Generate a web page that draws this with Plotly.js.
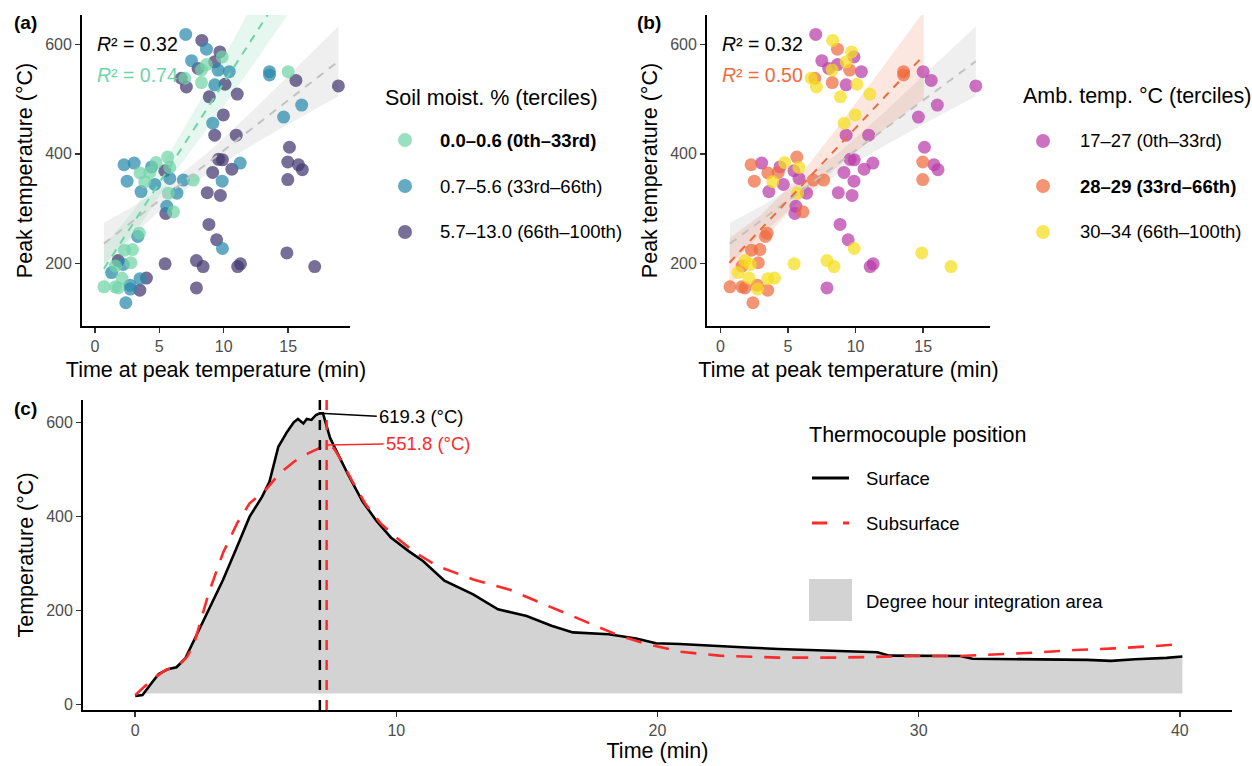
<!DOCTYPE html>
<html><head><meta charset="utf-8">
<script src="https://cdn.plot.ly/plotly-3.0.1.min.js"></script>
<style>html,body{margin:0;padding:0;background:#fff}#chart{width:1252px;height:766px}</style>
</head><body><div id="chart"></div>
<script>
// ================= DATA =================
// Panels (a) and (b): same burns, coloured by soil moisture (a) or ambient temperature (b)
const peakTime = [7.05,8.3,8.66,9.7,9.88,7.5,8.66,9.3,8.27,9.56,10.43,6.98,6.71,7.1,8.27,9.3,10.1,8.88,11.05,8.01,
  13.55,13.55,15.0,15.6,18.9,16.05,14.65,9.97,9.15,9.3,10.97,15.1,14.97,15.8,16.1,14.97,14.9,17.06,9.6,9.9,
  10.63,11.28,9.14,9.88,8.72,9.74,8.85,9.45,9.9,7.88,8.4,5.45,11.08,11.3,7.88,2.26,3.05,2.5,3.5,4.27,
  4.4,4.65,4.75,5.65,5.43,5.81,5.81,3.58,6.37,5.7,6.87,7.64,5.58,6.1,5.5,3.33,3.45,2.3,2.92,1.81,
  1.6,2.2,2.8,1.3,0.7,1.58,2.1,2.72,2.75,3.5,4.0,3.49,2.4,1.81,3.87];
const peakTemp = [618,607,591,586,577,570,563,568,553,553,550,538,538,522,530,526,527,504,509,556,
  550,544,550,534,524,489,467,471,456,434,434,412,385,380,371,353,219,194,390,389,
  372,383,366,350,329,324,271,243,227,205,194,199,194,199,155,380,383,350,365,366,
  376,344,384,394,369,375,355,331,328,328,352,352,304,294,291,249,255,224,225,205,
  195,198,201,183,157,157,173,160,153,172,173,151,128,155,349];
// 0 = 0.0–0.6, 1 = 0.7–5.6, 2 = 5.7–13.0
const soilGroup = [1,2,1,2,0,1,0,2,0,1,1,0,2,2,0,1,2,2,2,2,
  1,1,0,2,2,1,1,2,1,2,2,2,2,2,2,2,2,2,2,2,
  2,1,2,1,2,2,2,2,1,2,2,2,2,2,2,1,1,1,0,0,
  1,1,0,0,2,0,1,1,1,0,1,0,1,0,2,1,0,0,0,2,
  0,1,0,1,0,0,0,1,1,1,2,2,1,0,0];
// 0 = 17–27, 1 = 28–29, 2 = 30–34
const ambGroup = [0,2,1,2,0,0,0,2,2,1,0,1,2,2,1,0,2,2,2,0,
  1,1,0,0,0,0,0,2,2,0,0,0,1,0,0,1,2,2,0,0,
  0,0,0,0,0,0,0,0,2,2,2,2,0,0,0,1,0,1,1,1,
  0,0,2,1,0,2,0,0,0,2,1,1,0,1,0,1,1,1,1,2,
  1,2,1,2,1,1,2,1,2,2,2,1,1,1,2];
const soilLabels = ['<b>0.0–0.6 (0th–33rd)</b>','0.7–5.6 (33rd–66th)','5.7–13.0 (66th–100th)'];
const ambLabels = ['17–27 (0th–33rd)','<b>28–29 (33rd–66th)</b>','30–34 (66th–100th)'];
const soilTitle = 'Soil moist. % (terciles)';
const ambTitle = 'Amb. temp. °C (terciles)';

// Fitted lines and confidence ribbons
const fitAllX  = [0.7, 3, 6, 9, 12, 15, 18.9];
const fitAllY  = [236, 278, 333, 388, 443, 498, 569];
const fitAllLo = [198, 252, 316, 369, 413, 454, 505];
const fitAllHi = [274, 304, 350, 407, 473, 542, 633];
const fitDryX  = [0.7, 3, 6, 9, 12, 15];
const fitDryY  = [190, 274, 384, 493, 603, 712];
const fitDryLo = [148, 252, 359, 455, 553, 655];
const fitDryHi = [232, 296, 409, 531, 663, 790];
const fitMidX  = [0.66, 3, 6, 9, 12, 15.05];
const fitMidY  = [201, 263, 342, 421, 500, 580];
const fitMidLo = [156, 238, 320, 383, 442, 500];
const fitMidHi = [246, 288, 364, 459, 558, 660];
const r2All = '0.32', r2Dry = '0.74', r2Mid = '0.50';

// Panel (c): example burn time series
const surfTime = [0,0.28,0.62,0.9,1.24,1.58,1.92,2.26,2.81,3.36,3.9,4.38,4.86,5.14,5.48,5.82,6.07,6.23,6.44,6.57,
  6.75,6.92,7.07,7.19,7.33,7.46,7.74,8.15,8.7,9.24,9.79,10.47,11.02,11.84,12.94,13.89,14.99,15.94,16.76,18.13,
  19.18,19.94,20.85,21.9,22.5,23.42,24.63,26.14,27.66,28.42,28.88,29.94,31.6,32.06,33.73,35.25,36.46,37.37,38.28,39.49,40.1];
const surfTemp = [17.7,19.6,44.7,64.6,74.5,78.8,97.9,136.9,200.7,264.5,335.4,399.2,441.7,473.6,548,580,600,607,597.5,607,
  605,615.6,619.3,619,592,567,535,489,432,390,355,326,305,263,234,202,188,167,153,149,
  140,130,128.4,126,124,121,117.6,115.4,113,110.6,103.5,102.8,102.8,97,96.6,95.9,94.5,92.4,96,98.8,101.6];
const subTime = [0,0.62,1.17,1.65,1.99,2.26,2.81,3.36,3.9,4.38,4.99,5.54,6.09,6.64,7.05,7.33,7.6,7.88,8.28,8.83,
  9.38,9.93,10.75,11.57,12.94,14.31,15.67,17.04,18.41,19.48,20.85,22.36,24.63,26.9,28.42,29.94,31.6,32.97,34.49,36.0,
  37.52,39.04,39.94];
const subTemp = [19.6,51.7,73,81.6,101.5,130,236,322,385,427.5,456,492,516.6,534.3,545,551.8,545,520,478,425,
  386,357.7,322,294,265.7,244.5,212.6,180.7,148.8,130,112,103.5,99.3,99.3,101.4,102.8,102.8,106.4,110,115.6,
  119,124,127.7];
const areaBase = 23;
const seriesLabels = ['Surface','Subsurface','Degree hour integration area'];
const seriesTitle = 'Thermocouple position';

const xTicksAB = [0,5,10,15], yTicksAB = [200,400,600];
const xTicksC = [0,10,20,30,40], yTicksC = [0,200,400,600];

// ================= STYLE =================
const FONT = 'Liberation Sans, Arial, sans-serif';
const soilColors = ['#70D4A8','#2889AB','#43386F'];
const ambColors = ['#B93BA8','#EE6B3E','#F5DE1A'];
const W = 1252, H = 766;
const PX = v => v / W, PY = v => 1 - v / H;

const traces = [];
function ribbon(x, lo, hi, color, xa, ya) {
  traces.push({x: x.concat(x.slice().reverse()), y: hi.concat(lo.slice().reverse()), xaxis: xa, yaxis: ya,
    type:'scatter', mode:'lines', fill:'toself', fillcolor: color, line:{width:0}, hoverinfo:'skip', showlegend:false});
}
function fitLine(x, y, color, xa, ya) {
  traces.push({x, y, xaxis: xa, yaxis: ya, type:'scatter', mode:'lines',
    line:{color, width:2, dash:'8px,7px'}, hoverinfo:'skip', showlegend:false});
}
function points(groupArr, colors, xa, ya, order) {
  order.forEach(g => {
    const xs = [], ys = [];
    peakTime.forEach((t, i) => { if (groupArr[i] === g) { xs.push(t); ys.push(peakTemp[i]); } });
    traces.push({x: xs, y: ys, xaxis: xa, yaxis: ya, type:'scatter', mode:'markers',
      marker:{size:13, color: colors[g], opacity:0.72, line:{width:0}}, showlegend:false});
  });
}
// Panel a
ribbon(fitAllX, fitAllLo, fitAllHi, 'rgba(190,190,190,0.25)', 'x', 'y');
ribbon(fitDryX, fitDryLo, fitDryHi, 'rgba(112,212,168,0.18)', 'x', 'y');
points(soilGroup, soilColors, 'x', 'y', [2,1,0]);
fitLine(fitAllX, fitAllY, '#C2C2C2', 'x', 'y');
fitLine(fitDryX, fitDryY, soilColors[0], 'x', 'y');
// Panel b
ribbon(fitAllX, fitAllLo, fitAllHi, 'rgba(190,190,190,0.25)', 'x2', 'y2');
ribbon(fitMidX, fitMidLo, fitMidHi, 'rgba(238,107,62,0.16)', 'x2', 'y2');
points(ambGroup, ambColors, 'x2', 'y2', [0,1,2]);
fitLine(fitAllX, fitAllY, '#C2C2C2', 'x2', 'y2');
fitLine(fitMidX, fitMidY, ambColors[1], 'x2', 'y2');

// Panel c: integration area from the surface series
const areaX = [], areaY = [];
for (let i = 0; i < surfTime.length; i++) {
  if (surfTemp[i] >= areaBase) {
    if (!areaX.length && i > 0) {
      const f = (areaBase - surfTemp[i-1]) / (surfTemp[i] - surfTemp[i-1]);
      areaX.push(surfTime[i-1] + f * (surfTime[i] - surfTime[i-1])); areaY.push(areaBase);
    }
    areaX.push(surfTime[i]); areaY.push(surfTemp[i]);
  }
}
traces.push({x: areaX.concat([areaX[areaX.length-1], areaX[0]]), y: areaY.concat([areaBase, areaBase]),
  xaxis:'x3', yaxis:'y3', type:'scatter', mode:'lines', fill:'toself', fillcolor:'#D3D3D3', line:{width:0},
  hoverinfo:'skip', showlegend:false});
traces.push({x: surfTime, y: surfTemp, xaxis:'x3', yaxis:'y3', type:'scatter', mode:'lines',
  line:{color:'#000', width:2.6}, name: seriesLabels[0], showlegend:false});
traces.push({x: subTime, y: subTemp, xaxis:'x3', yaxis:'y3', type:'scatter', mode:'lines',
  line:{color:'#FF2A2A', width:2.6, dash:'16px,12px'}, name: seriesLabels[1], showlegend:false});

const iS = surfTemp.indexOf(Math.max(...surfTemp));
const iB = subTemp.indexOf(Math.max(...subTemp));

// ================= LAYOUT =================
function axis(extra) {
  return Object.assign({showline:true, linecolor:'#000', linewidth:1.9, ticks:'outside', ticklen:5, tickwidth:1.5,
    tickcolor:'#333', showgrid:false, zeroline:false, fixedrange:true,
    tickfont:{family:FONT, size:16, color:'#4D4D4D'}}, extra);
}
const titleFont = {family:FONT, size:21.5, color:'#000'};
const layout = {
  width: W, height: H, margin:{l:0,r:0,t:0,b:0}, paper_bgcolor:'#fff', plot_bgcolor:'rgba(0,0,0,0)',
  showlegend:false, font:{family:FONT},
  xaxis: axis({domain:[PX(82), PX(350)], range:[-1.0, 19.8], tickvals:xTicksAB, anchor:'y',
    title:{text:'Time at peak temperature (min)', font:titleFont, standoff:8}}),
  yaxis: axis({domain:[PY(326), PY(15)], range:[85.5, 653.5], tickvals:yTicksAB, anchor:'x',
    title:{text:'Peak temperature (°C)', font:titleFont, standoff:7}}),
  xaxis2: axis({domain:[PX(707), PX(990)], range:[-1.0, 19.95], tickvals:xTicksAB, anchor:'y2',
    title:{text:'Time at peak temperature (min)', font:titleFont, standoff:8}}),
  yaxis2: axis({domain:[PY(326), PY(15)], range:[85.5, 653.5], tickvals:yTicksAB, anchor:'x2',
    title:{text:'Peak temperature (°C)', font:titleFont, standoff:7}}),
  xaxis3: axis({domain:[PX(83), PX(1232)], range:[-2.0, 42.0], tickvals:xTicksC, anchor:'y3',
    title:{text:'Time (min)', font:titleFont, standoff:3}}),
  yaxis3: axis({domain:[PY(710), PY(400)], range:[-12.1, 647.4], tickvals:yTicksC, anchor:'x3',
    title:{text:'Temperature (°C)', font:titleFont, standoff:7}}),
  annotations: [], shapes: []
};
const A = layout.annotations, S = layout.shapes;
function ptext(text, x, y, opts) {
  A.push(Object.assign({text, x:PX(x), y:PY(y), xref:'paper', yref:'paper', xanchor:'left', yanchor:'middle',
    showarrow:false, font:{family:FONT, size:18.5, color:'#000'}}, opts || {}));
}
// panel tags
ptext('<b>(a)</b>', 12, 22, {font:{family:FONT, size:19, color:'#000'}});
ptext('<b>(b)</b>', 635, 22, {font:{family:FONT, size:19, color:'#000'}});
ptext('<b>(c)</b>', 12, 408, {font:{family:FONT, size:19, color:'#000'}});
// R² labels
const r2Font = c => ({family:FONT, size:19.5, color:c});
ptext('<i>R</i>² = ' + r2All, 95, 44, {font:r2Font('#000')});
ptext('<i>R</i>² = ' + r2Dry, 95, 75, {font:r2Font(soilColors[0])});
ptext('<i>R</i>² = ' + r2All, 720, 44, {font:r2Font('#000')});
ptext('<i>R</i>² = ' + r2Mid, 720, 75, {font:r2Font(ambColors[1])});

// manual legends
function pointLegend(title, labels, colors, tx, ty, cx, textX, ys) {
  ptext(title, tx, ty, {font:{family:FONT, size:21.5, color:'#000'}});
  labels.forEach((lab, k) => {
    S.push({type:'circle', xref:'paper', yref:'paper', x0:PX(cx-7), x1:PX(cx+7), y0:PY(ys[k]+7), y1:PY(ys[k]-7),
      fillcolor:colors[k], opacity:0.72, line:{width:0}});
    ptext(lab, textX, ys[k]);
  });
}
pointLegend(soilTitle, soilLabels, soilColors, 383, 98, 405, 438, [140, 186, 232]);
pointLegend(ambTitle, ambLabels, ambColors, 1021, 96, 1043, 1078, [141, 186, 232]);
ptext(seriesTitle, 807, 435, {font:{family:FONT, size:21.5, color:'#000'}});
S.push({type:'line', xref:'paper', yref:'paper', x0:PX(812), x1:PX(849), y0:PY(478), y1:PY(478), line:{color:'#000', width:3}});
S.push({type:'line', xref:'paper', yref:'paper', x0:PX(812), x1:PX(849), y0:PY(523), y1:PY(523), line:{color:'#FF2A2A', width:3, dash:'15px,16px'}});
S.push({type:'rect', xref:'paper', yref:'paper', x0:PX(809), x1:PX(852), y0:PY(621), y1:PY(579), fillcolor:'#D3D3D3', line:{width:0}});
ptext(seriesLabels[0], 864, 478);
ptext(seriesLabels[1], 864, 523);
ptext(seriesLabels[2], 864, 601);

// peak markers in panel c
S.push({type:'line', xref:'x3', yref:'y3 domain', x0:surfTime[iS], x1:surfTime[iS], y0:0, y1:1, line:{color:'#000', width:2.5, dash:'10px,10px'}});
S.push({type:'line', xref:'x3', yref:'y3 domain', x0:subTime[iB], x1:subTime[iB], y0:0, y1:1, line:{color:'#FF2A2A', width:2.5, dash:'10px,10px'}});
A.push({x:surfTime[iS], y:surfTemp[iS], xref:'x3', yref:'y3', text: surfTemp[iS].toFixed(1) + ' (°C)',
  showarrow:true, arrowhead:0, arrowwidth:1.6, arrowcolor:'#000', ax:57, ay:3, standoff:0,
  xanchor:'left', yanchor:'middle', font:{family:FONT, size:18.5, color:'#000'}});
A.push({x:subTime[iB], y:subTemp[iB], xref:'x3', yref:'y3', text: subTemp[iB].toFixed(1) + ' (°C)',
  showarrow:true, arrowhead:0, arrowwidth:1.6, arrowcolor:'#FF2A2A', ax:57, ay:-1, standoff:0,
  xanchor:'left', yanchor:'middle', font:{family:FONT, size:18.5, color:'#FF2A2A'}});

Plotly.newPlot('chart', traces, layout, {displayModeBar:false, staticPlot:true});
</script>
</body></html>
